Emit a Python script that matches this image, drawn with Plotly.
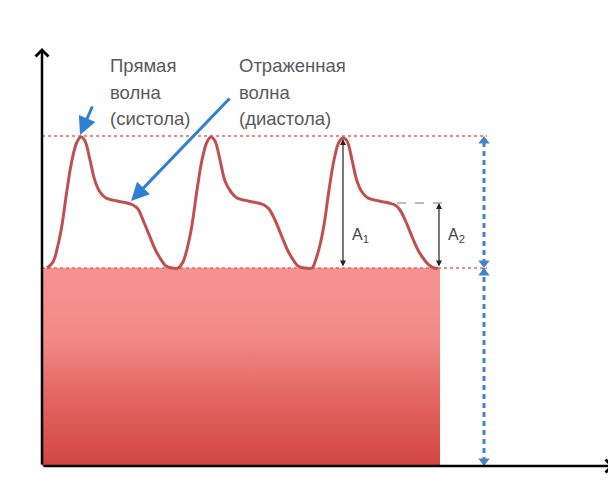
import plotly.graph_objects as go

# Pulse wave samples (time units, pressure units), three cycles
wave_t = [5, 11, 16, 20, 25, 30, 35, 39, 43, 48, 53, 58, 64, 75, 85, 91, 96, 101, 108, 113, 118, 124, 130,
          136, 141, 146, 150, 155, 160, 165, 169, 173, 178, 183, 189, 195, 206, 216, 222, 227, 233, 240, 245, 250, 256, 262, 270,
          273, 278, 282, 287, 292, 297, 301, 305, 310, 315, 320, 326, 337, 347, 353, 358, 364, 371, 376, 381, 387, 392, 396]
wave_p = [198, 204, 221, 241, 276, 306, 324, 329, 325, 306, 285, 274, 268, 265, 263, 261, 257, 246, 229, 217, 208, 200, 198,
          198, 204, 221, 241, 276, 306, 324, 329, 325, 306, 285, 274, 268, 265, 263, 261, 257, 246, 229, 217, 208, 200, 198, 198,
          204, 221, 241, 276, 306, 324, 328, 325, 306, 285, 274, 268, 265, 263, 261, 256, 244, 227, 216, 208, 201, 198, 198]

# Key levels
base_level = 198       # diastolic level (mean/baseline)
peak_level = 330       # systolic peak
shoulder_level = 263   # reflected wave level
rect_end = 398         # end of filled block
level_line_end = 445
measure_t = 442        # blue dashed measure
a1_t = 301
a2_t = 397
shoulder_start_t = 355
x_axis_end = 572
y_axis_end = 418

label_left = ["Прямая", "волна", "(систола)"]
label_right = ["Отраженная", "волна", "(диастола)"]
label_left_t = 66
label_right_t = 195
label_rows_p = [401, 374, 348]

red = "#c0504d"
blue = "#2f80d1"
measure_blue = "#4682c8"
grey_text = "#5a5a5a"
font_family = "Liberation Sans, Arial, sans-serif"

fig = go.Figure()

# Gradient block
fig.add_trace(go.Scatter(
    x=[0, rect_end, rect_end, 0, 0], y=[0, 0, base_level, base_level, 0],
    mode="lines", line=dict(width=0), fill="toself",
    fillgradient=dict(type="vertical",
                      colorscale=[[0, "#d14641"], [0.35, "#e36662"], [0.65, "#f18a87"], [1, "#f59390"]]),
    hoverinfo="skip", showlegend=False))

# Dotted red level lines
for lvl in [peak_level, base_level]:
    fig.add_trace(go.Scatter(x=[0, level_line_end], y=[lvl, lvl], mode="lines",
                             line=dict(color="#f06060", width=1.5, dash="dot"),
                             hoverinfo="skip", showlegend=False))

# Pulse wave
fig.add_trace(go.Scatter(x=wave_t, y=wave_p, mode="lines",
                         line=dict(color=red, width=3, shape="spline", smoothing=1.0),
                         hoverinfo="skip", showlegend=False))

# Dashed grey shoulder marker
fig.add_trace(go.Scatter(x=[shoulder_start_t, a2_t + 3], y=[shoulder_level, shoulder_level], mode="lines",
                         line=dict(color="#777777", width=1, dash="dash"),
                         hoverinfo="skip", showlegend=False))

# Blue dashed measure line
fig.add_trace(go.Scatter(x=[measure_t, measure_t], y=[4, peak_level - 4], mode="lines",
                         line=dict(color=measure_blue, width=3, dash="5px,4px"),
                         hoverinfo="skip", showlegend=False))
fig.add_trace(go.Scatter(x=[measure_t] * 4, y=[peak_level - 5, base_level + 5, base_level - 5, 5],
                         mode="markers",
                         marker=dict(symbol=["triangle-up", "triangle-down", "triangle-up", "triangle-down"],
                                     size=10, color=measure_blue),
                         hoverinfo="skip", showlegend=False))

ann = []
# Axes arrows
ann.append(dict(x=0, y=y_axis_end, ax=0, ay=0, xref="x", yref="y", axref="x", ayref="y",
                showarrow=True, arrowhead=4, arrowsize=1, arrowwidth=2.5, arrowcolor="black", text=""))
ann.append(dict(x=x_axis_end, y=0, ax=0, ay=0, xref="x", yref="y", axref="x", ayref="y",
                showarrow=True, arrowhead=4, arrowsize=1, arrowwidth=2.5, arrowcolor="black", text=""))
# A1 and A2 double arrows
for t_, top in [(a1_t, 327), (a2_t, shoulder_level)]:
    ann.append(dict(x=t_, y=top, ax=t_, ay=base_level, xref="x", yref="y", axref="x", ayref="y",
                    showarrow=True, arrowhead=2, startarrowhead=2, arrowside="end+start",
                    arrowsize=1, startarrowsize=1, arrowwidth=1.2, arrowcolor="#222222", text=""))
ann.append(dict(x=a1_t + 7, y=231, xref="x", yref="y", text="A<sub>1</sub>", showarrow=False,
                xanchor="left", font=dict(family=font_family, size=16, color="#444444")))
ann.append(dict(x=a2_t + 7, y=231, xref="x", yref="y", text="A<sub>2</sub>", showarrow=False,
                xanchor="left", font=dict(family=font_family, size=16, color="#444444")))
# Blue pointer arrows
ann.append(dict(x=38, y=331, ax=51, ay=361, xref="x", yref="y", axref="x", ayref="y",
                showarrow=True, arrowhead=2, arrowsize=1.2, arrowwidth=3, arrowcolor=blue, text=""))
ann.append(dict(x=89, y=265, ax=189, ay=369, xref="x", yref="y", axref="x", ayref="y",
                showarrow=True, arrowhead=2, arrowsize=1.2, arrowwidth=3, arrowcolor=blue, text=""))
# Labels
for txt, p in zip(label_left, label_rows_p):
    ann.append(dict(x=label_left_t, y=p, xref="x", yref="y", text=txt, showarrow=False,
                    xanchor="left", yanchor="middle",
                    font=dict(family=font_family, size=18.5, color=grey_text)))
for txt, p in zip(label_right, label_rows_p):
    ann.append(dict(x=label_right_t, y=p, xref="x", yref="y", text=txt, showarrow=False,
                    xanchor="left", yanchor="middle",
                    font=dict(family=font_family, size=18.5, color=grey_text)))

# Ranges offset by 8 px to compensate for the page's body margin
fig.update_layout(
    width=616, height=490, margin=dict(l=0, r=0, t=0, b=0),
    paper_bgcolor="white", plot_bgcolor="white",
    xaxis=dict(range=[-34, 582], visible=False, fixedrange=True),
    yaxis=dict(range=[-32, 458], visible=False, fixedrange=True),
    annotations=ann, showlegend=False)

fig.write_html("out.html")
